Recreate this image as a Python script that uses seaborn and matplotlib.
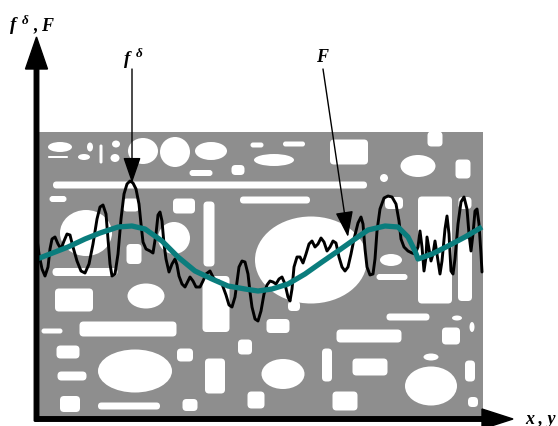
import numpy as np
import pandas as pd
import matplotlib
matplotlib.use("Agg")
import matplotlib.pyplot as plt
import seaborn as sns
from matplotlib.patches import Rectangle, Ellipse, FancyBboxPatch

# -----------------------------
# DATA (picture coordinates, y grows downwards)
# -----------------------------
# noisy measured function f^delta
fdelta_x = [37, 39, 42, 45, 48, 50, 52, 55, 58, 61, 64, 67, 70, 73, 77, 81, 85, 89, 93, 97,
            100, 103, 106, 108, 110, 112, 115, 118, 121, 124, 127, 130, 133, 136, 139, 141,
            143, 146, 150, 153, 156, 158, 160, 162, 164, 166, 169, 172, 175, 177, 179, 182,
            185, 188, 190, 193, 196, 200, 203, 206, 210, 213, 216, 219, 222, 226, 229, 232,
            235, 239, 242, 245, 248, 250, 252, 255, 258, 261, 264, 267, 270, 273, 276, 279,
            282, 285, 288, 290, 292, 294, 297, 300, 303, 306, 309, 312, 315, 318, 321, 324,
            327, 330, 333, 336, 339, 342, 345, 348, 351, 354, 358, 361, 363, 365, 367, 370,
            373, 375, 377, 380, 384, 388, 392, 396, 399, 401, 404, 408, 412, 415, 418, 420,
            422, 424, 426, 427, 429, 431, 433, 435, 437, 440, 442, 445, 447, 449, 451, 453,
            455, 458, 461, 464, 467, 469, 471, 473, 475, 477, 479, 481, 482]
fdelta_y = [240, 255, 270, 277, 268, 250, 240, 238, 245, 250, 242, 235, 236, 248, 262, 272, 274, 265, 245, 220,
            208, 206, 215, 240, 265, 277, 275, 255, 220, 195, 185, 182, 184, 190, 205, 225,
            243, 250, 252, 254, 235, 216, 213, 222, 245, 260, 273, 265, 260, 266, 277, 285,
            288, 282, 278, 282, 288, 288, 282, 275, 272, 278, 282, 282, 285, 296, 306, 308,
            298, 268, 262, 263, 275, 293, 308, 320, 322, 312, 295, 286, 282, 283, 285, 280,
            278, 285, 298, 302, 290, 268, 258, 258, 264, 255, 245, 242, 248, 245, 239, 243,
            252, 248, 242, 244, 258, 268, 272, 268, 255, 240, 224, 218, 225, 250, 268, 276,
            275, 260, 232, 210, 199, 197, 198, 205, 222, 240, 248, 252, 254, 255, 248, 232,
            248, 272, 258, 238, 250, 262, 255, 242, 255, 275, 262, 230, 217, 235, 272, 275,
            260, 225, 203, 198, 210, 235, 252, 235, 212, 210, 225, 255, 273]

# smooth regularized solution F
F_x = [37, 50, 68, 85, 100, 118, 132, 145, 162, 178, 195, 212, 228, 245, 258, 272, 288, 305,
       322, 338, 355, 368, 385, 398, 408, 415, 418, 432, 448, 465, 482]
F_y = [260, 255, 248, 240, 234, 228, 227, 230, 242, 258, 272, 280, 287, 290, 292, 290, 285, 275,
       263, 252, 240, 231, 227, 228, 238, 252, 260, 255, 247, 238, 228]

# white holes of the background plate: (kind, cx, cy, w, h)
holes = [
    ("e", 60, 148, 24, 10), ("e", 84, 158, 12, 6), ("r", 58, 158, 20, 2),
    ("e", 90, 148, 6, 9), ("r", 101, 155, 3, 19), ("e", 116, 145, 8, 7),
    ("e", 115, 159, 9, 8), ("e", 143, 152, 30, 26), ("e", 175, 153, 30, 30),
    ("e", 211, 152, 32, 18), ("r", 201, 174, 23, 6), ("r", 238, 171, 13, 10),
    ("r", 210, 186, 314, 7), ("r", 257, 146, 13, 5), ("e", 274, 161, 40, 12),
    ("r", 294, 145, 22, 5), ("r", 349, 153, 38, 25), ("r", 435, 140, 15, 15),
    ("e", 418, 167, 35, 22), ("r", 463, 170, 15, 19), ("e", 384, 179, 8, 8),
    ("r", 275, 201, 70, 7), ("r", 435, 251, 34, 107), ("r", 465, 271, 14, 62),
    ("r", 465, 204, 13, 12), ("r", 394, 204, 18, 12), ("e", 391, 261, 22, 12),
    ("r", 392, 278, 31, 6), ("r", 408, 318, 43, 7), ("e", 457, 319, 10, 5),
    ("e", 311, 261, 112, 87), ("r", 294, 307, 12, 10), ("e", 472, 328, 5, 10),
    ("r", 451, 337, 18, 17), ("r", 369, 337, 65, 13), ("r", 278, 327, 23, 14),
    ("r", 327, 366, 10, 33), ("r", 370, 368, 35, 17), ("e", 431, 358, 15, 7),
    ("e", 431, 387, 52, 39), ("r", 470, 372, 10, 21), ("r", 473, 403, 10, 10),
    ("r", 345, 402, 25, 19), ("e", 283, 375, 43, 30), ("r", 74, 301, 38, 23),
    ("e", 146, 297, 37, 25), ("r", 216, 305, 27, 56), ("r", 52, 332, 21, 5),
    ("r", 128, 330, 97, 15), ("r", 68, 353, 23, 13), ("e", 135, 372, 74, 43),
    ("r", 185, 356, 16, 13), ("r", 245, 348, 14, 15), ("r", 215, 377, 20, 35),
    ("r", 72, 377, 29, 9), ("r", 70, 405, 20, 16), ("r", 129, 407, 62, 7),
    ("r", 190, 406, 15, 12), ("r", 256, 401, 17, 17), ("r", 58, 200, 17, 6),
    ("e", 86, 234, 52, 46), ("r", 85, 273, 65, 8), ("r", 131, 206, 16, 13),
    ("r", 134, 255, 15, 20), ("r", 184, 207, 22, 15), ("r", 209, 235, 11, 65),
    ("e", 174, 239, 32, 32),
]

GRAY = "#8e8e8e"
TEAL = "#0a7d7d"
SERIF = "Liberation Serif"

# -----------------------------
# FIGURE
# -----------------------------
sns.set_style("white")
fig = plt.figure(figsize=(5.58, 4.27), dpi=100)
ax = fig.add_axes([0, 0, 1, 1])

# background plate
ax.add_patch(Rectangle((37, 133), 446, 287, fc=GRAY, ec="none", zorder=0))
for kind, cx, cy, w, h in holes:
    if kind == "e":
        p = Ellipse((cx, cy), w, h, fc="white", ec="none", zorder=1)
    else:
        r = min(4, min(w, h) / 2)
        p = FancyBboxPatch((cx - w / 2, cy - h / 2), w, h,
                           boxstyle=f"round,pad=0,rounding_size={r}",
                           fc="white", ec="none", zorder=1)
    ax.add_patch(p)

# curves
df_noisy = pd.DataFrame({"x": fdelta_x, "y": fdelta_y})
df_smooth = pd.DataFrame({"x": F_x, "y": F_y})
sns.lineplot(data=df_noisy, x="x", y="y", ax=ax, sort=False, estimator=None,
             color="black", lw=2.1, solid_joinstyle="round", zorder=3)
sns.lineplot(data=df_smooth, x="x", y="y", ax=ax, sort=False, estimator=None,
             color=TEAL, lw=3.8, solid_joinstyle="round", solid_capstyle="butt", zorder=4)

# coordinate axes
ax.arrow(36.5, 422, 0, -384, width=4.5, head_width=22, head_length=32,
         length_includes_head=True, fc="black", ec="black", zorder=5)
ax.arrow(35, 420, 478, 0, width=4.5, head_width=20, head_length=31,
         length_includes_head=True, fc="black", ec="black", zorder=5)

# pointers
head = "-|>,head_length=1.6,head_width=0.55"
ax.annotate("", xy=(132, 184), xytext=(132, 70),
            arrowprops=dict(arrowstyle=head, color="black", lw=1, shrinkA=0, shrinkB=0,
                            mutation_scale=10), zorder=6)
ax.annotate("", xy=(348, 238), xytext=(323, 70),
            arrowprops=dict(arrowstyle=head, color="black", lw=1, shrinkA=0, shrinkB=0,
                            mutation_scale=10), zorder=6)

# labels
tkw = dict(family=SERIF, fontweight="bold", fontstyle="italic", color="black", va="baseline")
ax.text(10, 30, "f", fontsize=13.5, **tkw)
ax.text(22, 24, "δ", fontsize=9.5, **tkw)
ax.text(33, 30, ", F", fontsize=13, **tkw)
ax.text(124, 64, "f", fontsize=13.5, **tkw)
ax.text(136, 57, "δ", fontsize=9.5, **tkw)
ax.text(316, 62, "F", fontsize=13, **tkw)
ax.text(525, 424, "x , y", fontsize=13, **tkw)

ax.set_xlim(0, 558)
ax.set_ylim(427, 0)
ax.axis("off")

fig.savefig("out.png", dpi=100)
